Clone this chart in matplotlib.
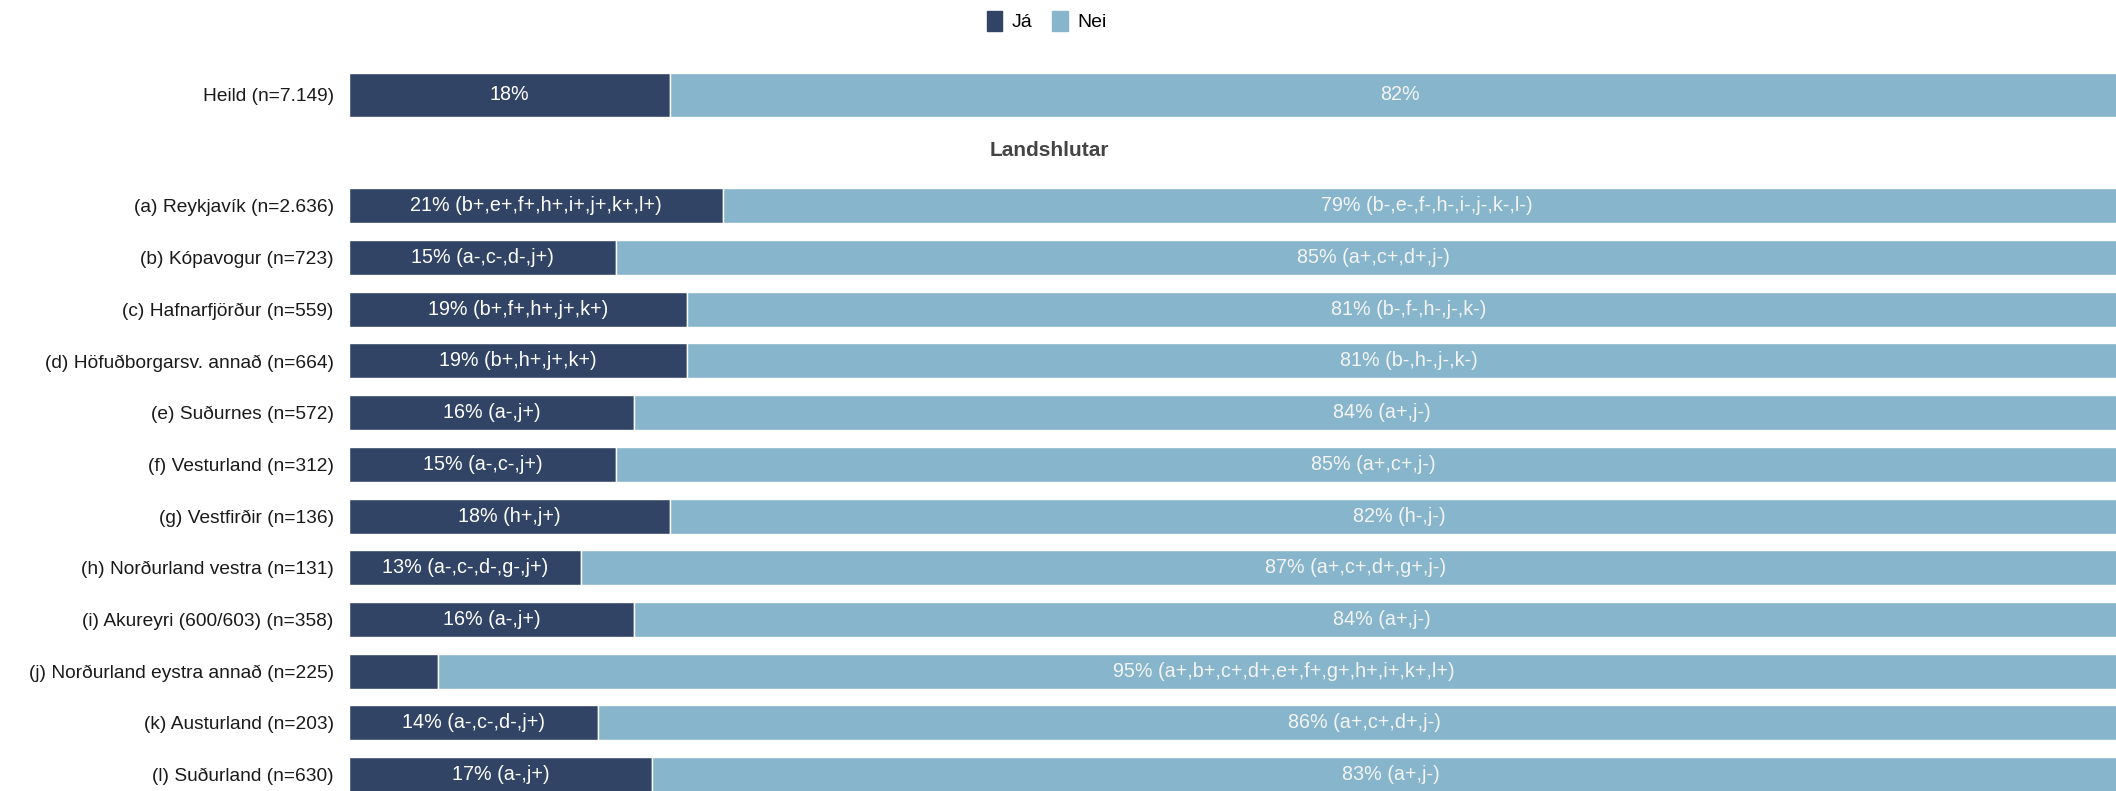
import matplotlib
matplotlib.use("Agg")
import matplotlib.pyplot as plt
from matplotlib.patches import Patch

plt.rcParams['font.family'] = ['Liberation Sans', 'DejaVu Sans']

labels = ["Heild (n=7.149)",
          "(a) Reykjavík (n=2.636)",
          "(b) Kópavogur (n=723)",
          "(c) Hafnarfjörður (n=559)",
          "(d) Höfuðborgarsv. annað (n=664)",
          "(e) Suðurnes (n=572)",
          "(f) Vesturland (n=312)",
          "(g) Vestfirðir (n=136)",
          "(h) Norðurland vestra (n=131)",
          "(i) Akureyri (600/603) (n=358)",
          "(j) Norðurland eystra annað (n=225)",
          "(k) Austurland (n=203)",
          "(l) Suðurland (n=630)"]
ja = [18, 21, 15, 19, 19, 16, 15, 18, 13, 16, 5, 14, 17]
nei = [82, 79, 85, 81, 81, 84, 85, 82, 87, 84, 95, 86, 83]
ja_sig = ["", "(b+,e+,f+,h+,i+,j+,k+,l+)", "(a-,c-,d-,j+)", "(b+,f+,h+,j+,k+)",
          "(b+,h+,j+,k+)", "(a-,j+)", "(a-,c-,j+)", "(h+,j+)", "(a-,c-,d-,g-,j+)",
          "(a-,j+)", "", "(a-,c-,d-,j+)", "(a-,j+)"]
nei_sig = ["", "(b-,e-,f-,h-,i-,j-,k-,l-)", "(a+,c+,d+,j-)", "(b-,f-,h-,j-,k-)",
           "(b-,h-,j-,k-)", "(a+,j-)", "(a+,c+,j-)", "(h-,j-)", "(a+,c+,d+,g+,j-)",
           "(a+,j-)", "(a+,b+,c+,d+,e+,f+,g+,h+,i+,k+,l+)", "(a+,c+,d+,j-)", "(a+,j-)"]
section_title = "Landshlutar"

dark = "#314466"
light = "#86b5cc"
fs = 13.8       # y labels, legend
fs_bar = 14.2   # labels inside bars

# Heild on top (thicker bar), then a gap for the section title
ypos = [0] + [2.15 + i for i in range(len(labels) - 1)]
heights = [0.85] + [0.677] * (len(labels) - 1)

fig = plt.figure(figsize=(21.16, 7.91), dpi=100)
ax = fig.add_axes([349 / 2116, 0, 1781 / 2116, 1])

ax.barh(ypos, ja, height=heights, color=dark, edgecolor="white", linewidth=1)
ax.barh(ypos, nei, left=ja, height=heights, color=light, edgecolor="white", linewidth=1)

for y, j, n, js, ns in zip(ypos, ja, nei, ja_sig, nei_sig):
    if j >= 8:
        txt = f"{j}%" + (f" {js}" if js else "")
        ax.text(j / 2, y, txt, ha="center", va="center", color="white", fontsize=fs_bar)
    txt = f"{n}%" + (f" {ns}" if ns else "")
    ax.text(j + n / 2, y, txt, ha="center", va="center", color="#f4f4f4", fontsize=fs_bar)

ax.set_xlim(0, 100)
ax.set_ylim(13.468, -1.832)
ax.set_yticks(ypos)
ax.set_yticklabels(labels, fontsize=fs, color="#1a1a1a")
ax.tick_params(axis="y", length=0, pad=11)
ax.set_xticks([])
for s in ax.spines.values():
    s.set_visible(False)

fig.text(0.496, 1 - 150 / 791, section_title, ha="center", va="center",
         fontsize=15, fontweight="bold", color="#444444")

handles = [Patch(color=dark, label="Já"), Patch(color=light, label="Nei")]
fig.legend(handles=handles, loc="center", bbox_to_anchor=(0.4946, 1 - 21 / 791),
           ncols=2, frameon=False, fontsize=14, handlelength=0.8, handleheight=1.2,
           handletextpad=0.5, columnspacing=1.0)

fig.savefig("out.png", dpi=100)
